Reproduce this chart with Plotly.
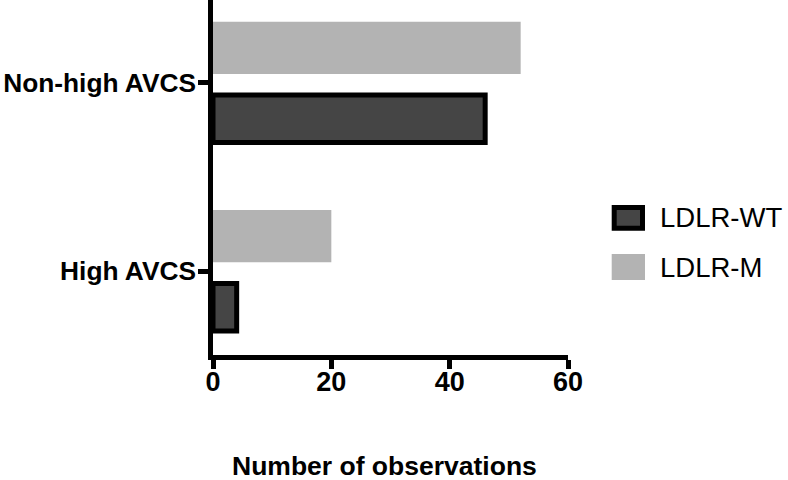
import plotly.graph_objects as go

# ---- data ----
categories = ["Non-high AVCS", "High AVCS"]
series_names = ["LDLR-WT", "LDLR-M"]
wt_values = [46, 4]
m_values = [52, 20]
x_ticks = [0, 20, 40, 60]

# ---- layout constants (pixels) ----
W, H = 788, 480
L, R, T, B = 213, 788 - 568, 0, 125
PW, PH = W - L - R, H - T - B

def px(x):
    return (x - L) / PW

def py(y):
    return (H - B - y) / PH

FONT = "Arial, Liberation Sans, Helvetica, sans-serif"
WT_FILL = "#454545"
M_FILL = "#b3b3b3"

fig = go.Figure()
fig.add_trace(go.Bar(
    y=categories, x=wt_values, orientation="h", name=series_names[0],
    marker=dict(color=WT_FILL, line=dict(color="black", width=5)),
    offset=-0.318, width=0.252, showlegend=False,
))
fig.add_trace(go.Bar(
    y=categories, x=m_values, orientation="h", name=series_names[1],
    marker=dict(color=M_FILL, line=dict(width=0)),
    offset=0.046, width=0.278, showlegend=False,
))

# custom legend (large swatches)
shapes = [
    dict(type="rect", xref="paper", yref="paper",
         x0=px(614.2), x1=px(642.5), y0=py(228.2), y1=py(207.5),
         fillcolor=WT_FILL, line=dict(color="black", width=5)),
    dict(type="rect", xref="paper", yref="paper",
         x0=px(611.7), x1=px(645), y0=py(280), y1=py(254),
         fillcolor=M_FILL, line=dict(width=0)),
]
annotations = [
    dict(text=series_names[0], xref="paper", yref="paper", x=px(658), y=py(217.5),
         xanchor="left", yanchor="middle", showarrow=False,
         font=dict(family=FONT, size=27.5, color="black")),
    dict(text=series_names[1], xref="paper", yref="paper", x=px(658), y=py(267.5),
         xanchor="left", yanchor="middle", showarrow=False,
         font=dict(family=FONT, size=27.5, color="black")),
    dict(text="Number of observations", xref="paper", yref="paper",
         x=px(384.5), y=py(466), xanchor="center", yanchor="middle", showarrow=False,
         font=dict(family=FONT, size=26.5, weight="bold", color="black")),
]

fig.update_layout(
    width=W, height=H,
    margin=dict(l=L, r=R, t=T, b=B, pad=0, autoexpand=False),
    paper_bgcolor="white", plot_bgcolor="white",
    barmode="overlay",
    shapes=shapes, annotations=annotations,
    font=dict(family=FONT, color="black"),
    xaxis=dict(
        range=[0, 60], tickvals=x_ticks, ticktext=[str(v) for v in x_ticks],
        showgrid=False, zeroline=False, automargin=False,
        showline=True, linecolor="black", linewidth=4.5,
        ticks="outside", ticklen=9, tickwidth=4.5, tickcolor="black",
        ticklabelstandoff=-10,
        tickfont=dict(family=FONT, size=27, weight="bold", color="black"),
        fixedrange=True,
    ),
    yaxis=dict(
        type="category", categoryorder="array",
        categoryarray=[categories[1], categories[0]],
        range=[-0.446, 1.439], automargin=False,
        showgrid=False, zeroline=False,
        showline=True, linecolor="black", linewidth=4.5,
        ticks="outside", ticklen=10, tickwidth=4.5, tickcolor="black",
        ticklabelstandoff=-3,
        tickfont=dict(family=FONT, size=26.3, weight="bold", color="black"),
        fixedrange=True,
    ),
)

fig.write_html(
    "out.html",
    config={"displayModeBar": False},
    post_script="document.body.style.margin='0';document.body.style.padding='0';",
)
